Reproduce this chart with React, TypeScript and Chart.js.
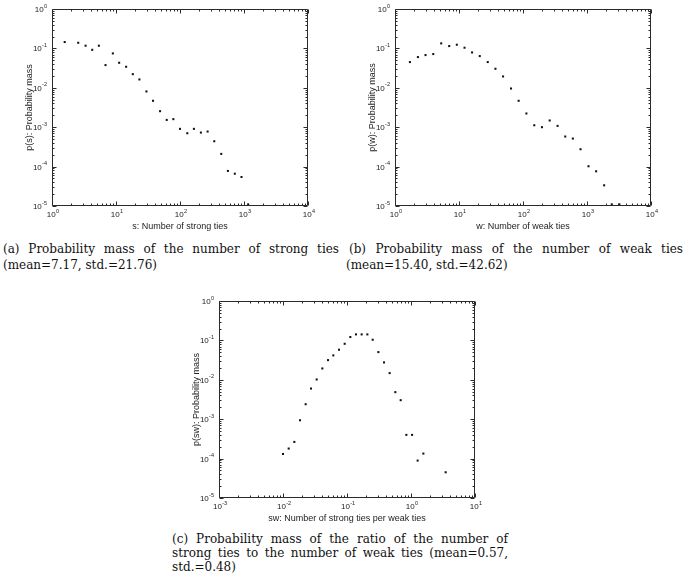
import React, { useEffect, useRef } from "react";
import { Chart, registerables } from "chart.js";

Chart.register(...registerables);

// ---- data ----
const strongX = [1.58, 2.57, 3.35, 4.25, 5.4, 6.86, 8.93, 11.2, 14.4, 18.3, 23.2, 29.9, 37.9, 48.8, 62, 78.7, 100, 130, 165, 212, 270, 343, 441, 560, 719, 914, 1161];
const strongY = [0.145, 0.139, 0.117, 0.092, 0.117, 0.0377, 0.0746, 0.0432, 0.0342, 0.0222, 0.0163, 0.00807, 0.00468, 0.00255, 0.00153, 0.0016, 0.000908, 0.000703, 0.000908, 0.000731, 0.000776, 0.00044, 0.00021, 7.76e-5, 6.6e-5, 5.45e-5, 1.1e-5];

const weakX = [1.71, 2.28, 3.0, 3.96, 5.27, 7.03, 9.25, 12.2, 16.0, 21.1, 28.1, 37.1, 48.8, 65, 85.5, 113, 150, 198, 261, 347, 457, 601, 792, 1055, 1389, 1852, 2438, 3206];
const weakY = [0.045, 0.0602, 0.0677, 0.0718, 0.134, 0.1146, 0.124, 0.104, 0.079, 0.0638, 0.045, 0.0304, 0.0194, 0.0096, 0.00468, 0.00223, 0.00112, 0.001, 0.00148, 0.00108, 0.00058, 0.000515, 0.000276, 0.000102, 7.6e-5, 3.35e-5, 1.1e-5, 1.1e-5];

const ratioX = [0.01, 0.01227, 0.01503, 0.01845, 0.0226, 0.0274, 0.0336, 0.0412, 0.0505, 0.0611, 0.075, 0.092, 0.1127, 0.138, 0.1695, 0.208, 0.252, 0.309, 0.379, 0.464, 0.569, 0.69, 0.846, 1.04, 1.27, 1.56, 3.48];
const ratioY = [1.31e-4, 1.8e-4, 2.65e-4, 9.4e-4, 0.0024, 0.006, 0.0102, 0.0194, 0.0316, 0.0416, 0.058, 0.082, 0.1216, 0.142, 0.142, 0.142, 0.104, 0.0505, 0.0276, 0.0148, 0.00486, 0.00304, 4.0e-4, 4.0e-4, 8.9e-5, 1.34e-4, 4.5e-5];

const xTicksAB = [1, 10, 100, 1000, 10000];
const xTickExpAB = ["0", "1", "2", "3", "4"];
const xTicksC = [0.001, 0.01, 0.1, 1, 10];
const xTickExpC = ["-3", "-2", "-1", "0", "1"];
const yTicks = [1e-5, 1e-4, 1e-3, 1e-2, 1e-1, 1];
const yTickExp = ["-5", "-4", "-3", "-2", "-1", "0"];
const tickBase = "10";

const SANS = "'Liberation Sans', Arial, 'DejaVu Sans', sans-serif";
const SERIF = "'DejaVu Serif', 'Liberation Serif', serif";

function drawPow(ctx: any, xRight: number | null, xCenter: number | null, yMid: number, exp: string) {
  const baseFont = `8px ${SANS}`;
  const expFont = `5.5px ${SANS}`;
  ctx.font = baseFont;
  const wb = ctx.measureText(tickBase).width;
  ctx.font = expFont;
  const we = ctx.measureText(exp).width;
  const total = wb + we + 0.3;
  let x0 = 0;
  if (xRight !== null) x0 = xRight - total;
  else if (xCenter !== null) x0 = xCenter - total / 2;
  ctx.textBaseline = "alphabetic";
  ctx.textAlign = "left";
  ctx.font = baseFont;
  ctx.fillText(tickBase, x0, yMid + 3);
  ctx.font = expFont;
  ctx.fillText(exp, x0 + wb + 0.3, yMid - 1.5);
}

const boxTicks = {
  id: "boxTicks",
  afterDatasetsDraw(chart: any) {
    try {
      const ctx = chart.ctx;
      const a = chart.chartArea;
      const xs = chart.scales.x;
      const ys = chart.scales.y;
      const cfg = chart.options.plugins.boxTicks || {};
      const L = Math.round(a.left) + 0.5;
      const R = Math.round(a.right) - 0.5;
      const T = Math.round(a.top) + 0.5;
      const B = Math.round(a.bottom) - 0.5;
      ctx.save();
      ctx.strokeStyle = "#2a2a2a";
      ctx.lineWidth = 1;
      ctx.beginPath();
      ctx.rect(L, T, R - L, B - T);
      const doScale = (sc: any, horiz: boolean) => {
        const lo = Math.floor(Math.log10(sc.min) + 1e-9);
        const hi = Math.ceil(Math.log10(sc.max) - 1e-9);
        for (let e = lo; e <= hi; e++) {
          for (let m = 1; m <= 9; m++) {
            const v = m * Math.pow(10, e);
            if (v < sc.min * 0.999 || v > sc.max * 1.001) continue;
            const len = m === 1 ? 4 : 2;
            const p = Math.round(sc.getPixelForValue(v)) + 0.5;
            if (horiz) {
              ctx.moveTo(p, B); ctx.lineTo(p, B - len);
              ctx.moveTo(p, T); ctx.lineTo(p, T + len);
            } else {
              ctx.moveTo(L, p); ctx.lineTo(L + len, p);
              ctx.moveTo(R, p); ctx.lineTo(R - len, p);
            }
          }
        }
      };
      doScale(xs, true);
      doScale(ys, false);
      ctx.stroke();
      // tick labels
      ctx.fillStyle = "#222";
      const xT: number[] = cfg.xTicks || [];
      const xE: string[] = cfg.xExp || [];
      xT.forEach((v, i) => {
        drawPow(ctx, null, xs.getPixelForValue(v) + 1, a.bottom + 8, xE[i]);
      });
      yTicks.forEach((v, i) => {
        drawPow(ctx, a.left - 5, null, ys.getPixelForValue(v), yTickExp[i]);
      });
      ctx.restore();
    } catch (err: any) {
      const d = document.createElement("div");
      d.textContent = "ERR " + String(err && err.message);
      d.style.cssText = "position:absolute;left:560px;top:300px;font:9px sans-serif;color:red;width:120px";
      document.body.appendChild(d);
    }
  },
};

type PlotProps = {
  xs: number[];
  ys: number[];
  xTicks: number[];
  xExp: string[];
  xTitle: string;
  yTitle: string;
  left: number;
  top: number;
};

const W = 340;
const H = 232;

function LogPlot({ xs, ys, xTicks, xExp, xTitle, yTitle, left, top }: PlotProps) {
  const ref = useRef<HTMLCanvasElement | null>(null);
  useEffect(() => {
    if (!ref.current) return;
    const chart = new Chart(ref.current, {
      type: "scatter",
      data: {
        datasets: [
          {
            data: xs.map((v, i) => ({ x: v, y: ys[i] })),
            pointStyle: "rect",
            pointRadius: 1.45,
            backgroundColor: "#111",
            borderWidth: 0,
          },
        ],
      },
      options: {
        responsive: false,
        animation: false,
        layout: { padding: { left: 0, right: 32, top: 9, bottom: 0 } },
        plugins: {
          legend: { display: false },
          tooltip: { enabled: false },
          boxTicks: { xTicks, xExp },
        },
        scales: {
          x: {
            type: "logarithmic",
            min: xTicks[0],
            max: xTicks[xTicks.length - 1],
            grid: { display: false },
            border: { display: false },
            afterBuildTicks: (s: any) => {
              s.ticks = xTicks.map((v) => ({ value: v }));
            },
            afterFit: (s: any) => {
              s.height = 26;
            },
            ticks: { display: false },
            title: {
              display: true,
              text: xTitle,
              color: "#222",
              font: { family: SANS, size: 9 },
              padding: { top: 0, bottom: 0 },
            },
          },
          y: {
            type: "logarithmic",
            min: yTicks[0],
            max: yTicks[yTicks.length - 1],
            grid: { display: false },
            border: { display: false },
            afterBuildTicks: (s: any) => {
              s.ticks = yTicks.map((v) => ({ value: v }));
            },
            afterFit: (s: any) => {
              s.width = 52;
            },
            ticks: { display: false },
            title: {
              display: true,
              text: yTitle,
              color: "#222",
              font: { family: SANS, size: 9 },
              padding: { top: 24, bottom: 0 },
            },
          },
        },
      } as any,
      plugins: [boxTicks as any],
    });
    return () => chart.destroy();
  }, []);
  return (
    <canvas
      ref={ref}
      width={W}
      height={H}
      style={{ position: "absolute", left, top, width: W, height: H }}
    />
  );
}

const capBase: React.CSSProperties = {
  position: "absolute",
  fontFamily: SERIF,
  fontSize: 12,
  lineHeight: "15px",
  color: "#111",
  whiteSpace: "nowrap",
};
const just: React.CSSProperties = {
  textAlign: "justify",
  textAlignLast: "justify" as any,
  whiteSpace: "normal",
};

export default function App() {
  return (
    <div
      style={{
        position: "absolute",
        left: 0,
        top: 0,
        width: 686,
        height: 583,
        background: "#fff",
        overflow: "hidden",
      }}
    >
      <LogPlot
        xs={strongX}
        ys={strongY}
        xTicks={xTicksAB}
        xExp={xTickExpAB}
        xTitle="s: Number of strong ties"
        yTitle="p(s): Probability mass"
        left={0}
        top={0}
      />
      <LogPlot
        xs={weakX}
        ys={weakY}
        xTicks={xTicksAB}
        xExp={xTickExpAB}
        xTitle="w: Number of weak ties"
        yTitle="p(w): Probability mass"
        left={343}
        top={0}
      />
      <LogPlot
        xs={ratioX}
        ys={ratioY}
        xTicks={xTicksC}
        xExp={xTickExpC}
        xTitle="sw: Number of strong ties per weak ties"
        yTitle="p(sw): Probability mass"
        left={167}
        top={292}
      />
      <div style={{ ...capBase, ...just, left: 3, top: 242, width: 336 }}>
        (a) Probability mass of the number of strong ties
      </div>
      <div style={{ ...capBase, left: 3, top: 258 }}>(mean=7.17, std.=21.76)</div>
      <div style={{ ...capBase, ...just, left: 349, top: 242, width: 334 }}>
        (b) Probability mass of the number of weak ties
      </div>
      <div style={{ ...capBase, left: 346, top: 258 }}>(mean=15.40, std.=42.62)</div>
      <div style={{ ...capBase, ...just, left: 172, top: 532, width: 336 }}>
        (c) Probability mass of the ratio of the number of
      </div>
      <div style={{ ...capBase, ...just, left: 172, top: 546, width: 336 }}>
        strong ties to the number of weak ties (mean=0.57,
      </div>
      <div style={{ ...capBase, left: 172, top: 560 }}>std.=0.48)</div>
    </div>
  );
}
